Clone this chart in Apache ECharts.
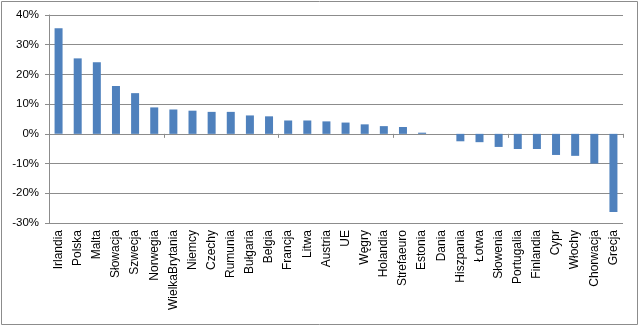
<!DOCTYPE html>
<html>
<head>
<meta charset="utf-8">
<script src="https://cdn.jsdelivr.net/npm/echarts@6/dist/echarts.min.js"></script>
<style>
  html, body { margin: 0; padding: 0; background: #fff; }
  #chart { width: 640px; height: 327px; }
</style>
</head>
<body>
<div id="chart"></div>
<script>
// Countries, sorted by change (percent)
const countries = ['Irlandia', 'Polska', 'Malta', 'Słowacja', 'Szwecja', 'Norwegia', 'WielkaBrytania',
  'Niemcy', 'Czechy', 'Rumunia', 'Bułgaria', 'Belgia', 'Francja', 'Litwa', 'Austria', 'UE', 'Węgry',
  'Holandia', 'Strefaeuro', 'Estonia', 'Dania', 'Hiszpania', 'Łotwa', 'Słowenia', 'Portugalia',
  'Finlandia', 'Cypr', 'Włochy', 'Chorwacja', 'Grecja'];
const changePct = [35.5, 25.4, 24.1, 16.1, 13.7, 8.9, 8.2, 7.8, 7.4, 7.4, 6.2, 5.9, 4.5, 4.5, 4.2, 3.8, 3.2,
  2.6, 2.3, 0.4, 0, -2.5, -2.8, -4.4, -5.1, -5.1, -7.1, -7.4, -10.0, -26.3];
const yTicks = { min: -30, max: 40, step: 10 };

const gridGray = '#8c8c8c';
const font = 'Liberation Sans, Arial, sans-serif';

const chart = echarts.init(document.getElementById('chart'), null, { renderer: 'canvas' });
chart.setOption({
  animation: false,
  graphic: [{
    type: 'rect',
    shape: { x: 1.5, y: 1.5, width: 636, height: 323 },
    style: { fill: 'none', stroke: '#8c8c8c', lineWidth: 1 },
    silent: true
  }],
  grid: { left: 49, right: 17, top: 15, bottom: 104 },
  xAxis: [{
    type: 'category',
    data: countries,
    position: 'bottom',
    axisLine: { show: false, onZero: false },
    axisTick: { show: false },
    axisLabel: {
      rotate: 90, interval: 0, margin: 7,
      fontFamily: font, fontSize: 12, color: '#000'
    },
    splitLine: { show: false }
  }, {
    type: 'category',
    data: countries,
    position: 'bottom',
    axisLine: { show: true, onZero: true, lineStyle: { color: gridGray, width: 1 } },
    axisTick: { show: true, length: 4, inside: false, lineStyle: { color: gridGray } },
    axisLabel: { show: false },
    splitLine: { show: false }
  }],
  yAxis: {
    type: 'value',
    min: yTicks.min, max: yTicks.max, interval: yTicks.step,
    axisLine: { show: true, lineStyle: { color: gridGray, width: 1 } },
    axisTick: { show: true, length: 4, lineStyle: { color: gridGray } },
    axisLabel: {
      formatter: v => v + '%', margin: 10,
      fontFamily: font, fontSize: 11.5, color: '#000'
    },
    splitLine: { show: true, lineStyle: { color: gridGray, width: 1 } }
  },
  series: [{
    type: 'bar',
    xAxisIndex: 0,
    data: changePct,
    barWidth: 8,
    itemStyle: { color: '#4f81bd' }
  }]
});
</script>
</body>
</html>
